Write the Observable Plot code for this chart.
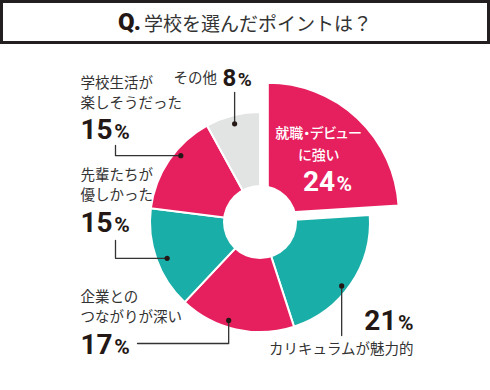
<!DOCTYPE html>
<html><head><meta charset="utf-8">
<script src="https://cdn.jsdelivr.net/npm/d3@7"></script>
<script src="https://cdn.jsdelivr.net/npm/@observablehq/plot@0.6"></script>
<style>
body{margin:0;background:#fff;}
#title{box-sizing:border-box;width:490px;height:44px;border:3px solid #231f20;display:flex;align-items:center;justify-content:center;font-family:"Noto Sans CJK JP";color:#333;font-size:19px;}
#title .q{font-family:Roboto;font-weight:900;font-size:24px;color:#231815;margin-right:4px;letter-spacing:-1px;}
</style></head><body>
<div id="title"><span class="q">Q.</span><span>学校を選んだポイントは？</span></div>
<div id="chart"></div>
<script>
// ---- data ----
const categories = ["就職・デビューに強い", "カリキュラムが魅力的", "企業とのつながりが深い", "先輩たちが優しかった", "学校生活が楽しそうだった", "その他"];
const values = [24, 21, 17, 15, 15, 8];
const labelLines = [["就職・デビュー", "に強い"], ["カリキュラムが魅力的"], ["企業との", "つながりが深い"], ["先輩たちが", "優しかった"], ["学校生活が", "楽しそうだった"], ["その他"]];
const sliceColors = ["#e61f5e", "#1aaea8", "#e61f5e", "#1aaea8", "#e61f5e", "#e2e3e3"];

// ---- layout (relative to pie centre, pixels, y downward) ----
const W = 490, H = 346, CX = 260, CY = 178;
const outerR = 110, innerR = 37, explodeIndex = 0, explodeOffset = 11.4, explodeR = 131;
const labelLayout = [
  {x: 58, y: -89, anchor: "middle", fill: "#fff", px: 67, py: -40, panchor: "middle", pfill: "#fff", big: 28, small: 21},
  {x: 153, y: 127, anchor: "end", fill: "#333", px: 153, py: 99, panchor: "end", pfill: "#231815", big: 28, small: 21},
  {x: -180, y: 75, anchor: "start", fill: "#333", px: -180, py: 123, panchor: "start", pfill: "#231815", big: 28, small: 21},
  {x: -180, y: -47, anchor: "start", fill: "#333", px: -180, py: 1, panchor: "start", pfill: "#231815", big: 28, small: 21},
  {x: -180, y: -139, anchor: "start", fill: "#333", px: -180, py: -92, panchor: "start", pfill: "#231815", big: 28, small: 21},
  {x: -87, y: -144, anchor: "start", fill: "#333", px: -38, py: -144, panchor: "start", pfill: "#231815", big: 24, small: 19}
];
const leaderLayout = [
  {i: 1, angle: 128, r: 103, from: [null, 113], route: "v"},
  {i: 2, angle: 198, r: 103, from: [-123, 121], route: "hv"},
  {i: 3, angle: 249, r: 100, from: [-145, 18], route: "vh"},
  {i: 4, angle: 310, r: 104, from: [-145, -77], route: "vh"},
  {i: 5, angle: 345.3, r: 102, from: [null, -130], route: "v"}
];

const rows = categories.map((c, i) => ({category: c, value: values[i], color: sliceColors[i]}));
const arcs = d3.pie().sort(null).value(d => d.value)(rows);

const lineRows = labelLines.flatMap((lines, i) => lines.map((t, j) => ({
  text: t, i, x: labelLayout[i].x, y: labelLayout[i].y + j * (i === 0 ? 22 : 20),
  anchor: labelLayout[i].anchor, fill: labelLayout[i].fill
})));
const pctRows = values.map((v, i) => ({text: v + "%", ...labelLayout[i]}));

const dots = leaderLayout.map(l => {
  const a = l.angle * Math.PI / 180;
  return {i: l.i, x: l.r * Math.sin(a), y: -l.r * Math.cos(a)};
});
const leaderPts = leaderLayout.flatMap((l, k) => {
  const d = dots[k];
  if (l.route === "v") return [{k, x: d.x, y: l.from[1]}, {k, x: d.x, y: d.y}];
  if (l.route === "hv") return [{k, x: l.from[0], y: l.from[1]}, {k, x: d.x, y: l.from[1]}, {k, x: d.x, y: d.y}];
  return [{k, x: l.from[0], y: l.from[1]}, {k, x: l.from[0], y: d.y}, {k, x: d.x, y: d.y}];
});

function slices(index, scales) {
  const cx = scales.x(0), cy = scales.y(0);
  const k = (scales.x(100) - scales.x(0)) / 100;
  const g = d3.create("svg:g").attr("aria-label", "slices");
  arcs.forEach((a, i) => {
    const ex = i === explodeIndex;
    const mid = (a.startAngle + a.endAngle) / 2;
    const off = ex ? explodeOffset : 0;
    const R = ex ? explodeR : outerR;
    g.append("path")
      .attr("d", d3.arc().innerRadius(0).outerRadius(R * k)(a))
      .attr("transform", `translate(${cx + off * k * Math.sin(mid)},${cy - off * k * Math.cos(mid)})`)
      .attr("fill", a.data.color)
      .attr("stroke", "#fff").attr("stroke-width", 2).attr("stroke-linejoin", "round");
  });
  g.append("circle").attr("cx", cx).attr("cy", cy).attr("r", innerR * k).attr("fill", "#fff");
  return g.node();
}

const chart = Plot.plot({
  width: W, height: H, margin: 0,
  x: {domain: [-CX, W - CX], range: [0, W], axis: null},
  y: {domain: [-CY, H - CY], range: [0, H], axis: null},
  style: {fontFamily: "'Noto Sans CJK JP', sans-serif", background: "#fff"},
  marks: [
    slices,
    Plot.line(leaderPts, {x: "x", y: "y", z: "k", stroke: "#333", strokeWidth: 1.3}),
    Plot.dot(dots, {x: "x", y: "y", r: 2.6, fill: "#231815", stroke: null}),
    Plot.text(lineRows, {x: "x", y: "y", text: "text", fill: d => d.fill, fontSize: 14.5, lineAnchor: "middle"}),
    Plot.text(pctRows, {x: "px", y: "py", text: "text", fill: d => d.pfill, lineAnchor: "middle", fontWeight: "bold", fontSize: 28})
  ]
});

const svg = d3.select(chart);
document.getElementById("chart").appendChild(chart);
const textGroups = svg.selectAll("g[aria-label='text']").nodes();
d3.select(textGroups[0]).selectAll("text").each(function(_, j) {
  const r = lineRows[j];
  const el = d3.select(this).attr("text-anchor", r.anchor);
  if (r.i === 0) el.style("font-feature-settings", "'palt'").style("font-weight", 500).style("font-size", "14px");
});
d3.select(textGroups[1]).selectAll("text").each(function(_, j) {
  const r = pctRows[j];
  const el = d3.select(this);
  el.attr("text-anchor", r.panchor).style("font-family", "Roboto, sans-serif").style("font-size", r.big + "px");
  const num = r.text.replace("%", "");
  el.text(null);
  el.append("tspan").text(num);
  el.append("tspan").attr("dx", 1.5).style("font-size", r.small + "px").text("%");
});
</script>
</body></html>
